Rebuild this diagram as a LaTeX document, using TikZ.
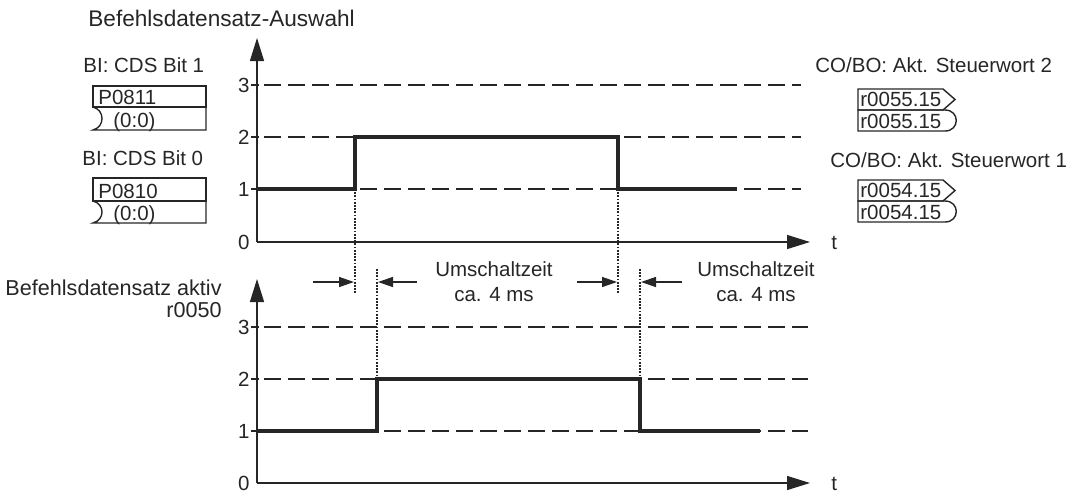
\documentclass[tikz,border=0pt]{standalone}
\usepackage{fontspec}
\setmainfont{Liberation Sans}
\usetikzlibrary{arrows.meta}
\begin{document}
\begin{tikzpicture}[x=0.5pt,y=-0.5pt,
  txt/.style={font=\fontsize{10.25}{12}\selectfont, inner sep=0pt, text=black!85},
  axis/.style={line width=0.7pt, draw=black!85, -{Triangle[length=11.5pt,width=7pt]}},
  lvl/.style={line width=0.9pt, draw=black!85, dash pattern=on 8.5pt off 3.5pt},
  tick/.style={line width=0.7pt, draw=black!85},
  sig/.style={line width=1.6pt, draw=black!85, line join=miter},
  dotv/.style={line width=1.1pt, draw=black!85, dash pattern=on 0.9pt off 0.7pt},
  harr/.style={line width=0.7pt, draw=black!85, -{Triangle[length=7.5pt,width=5pt]}},
  box/.style={line width=0.7pt, draw=black!85},
]
\useasboundingbox (0,0) rectangle (1069,493);

% ---------- upper chart ----------
\coordinate (uO) at (257,242);
\coordinate (uY) at (257,38);
\coordinate (uX) at (810,242);
\foreach \n/\y in {3/85,2/137,1/189}{
  \draw[lvl] (264,\y) -- (801,\y);
  \draw[tick] (251,\y) -- (259,\y);
  \node[txt, anchor=east] (ul\n) at (250,\y) {\n};
}
\node[txt, anchor=east] (ul0) at (250,242) {0};
\draw[axis] (uO) -- (uY);
\draw[axis] (uO) -- (uX);
\node[txt, anchor=west] (ut) at (831,243) {t};
\draw[sig] (257,189) -- (355,189) -- (355,137) -- (618,137) -- (618,189) -- (737,189);

% ---------- lower chart ----------
\coordinate (lO) at (257,483);
\coordinate (lY) at (257,279);
\coordinate (lX) at (810,483);
\foreach \n/\y in {3/327,2/379,1/431}{
  \draw[lvl] (264,\y) -- (808,\y);
  \draw[tick] (251,\y) -- (259,\y);
  \node[txt, anchor=east] (ll\n) at (250,\y) {\n};
}
\node[txt, anchor=east] (ll0) at (250,483) {0};
\draw[axis] (lO) -- (lY);
\draw[axis] (lO) -- (lX);
\node[txt, anchor=west] (lt) at (831,484) {t};
\draw[sig] (257,431) -- (377,431) -- (377,379) -- (640,379) -- (640,431) -- (760,431);

% ---------- dotted markers and switching-time arrows ----------
\coordinate (d1a) at (355,189); \coordinate (d1b) at (355,293);
\coordinate (d2a) at (377,269); \coordinate (d2b) at (377,379);
\coordinate (d3a) at (618,189); \coordinate (d3b) at (618,293);
\coordinate (d4a) at (640,269); \coordinate (d4b) at (640,379);
\draw[dotv] (d1a) -- (d1b);
\draw[dotv] (d2a) -- (d2b);
\draw[dotv] (d3a) -- (d3b);
\draw[dotv] (d4a) -- (d4b);
\coordinate (a1s) at (313,282); \coordinate (a1e) at (354,282);
\coordinate (a2s) at (417,282); \coordinate (a2e) at (378,282);
\coordinate (a3s) at (577,282); \coordinate (a3e) at (617,282);
\coordinate (a4s) at (682,282); \coordinate (a4e) at (641,282);
\draw[harr] (a1s) -- (a1e);
\draw[harr] (a2s) -- (a2e);
\draw[harr] (a3s) -- (a3e);
\draw[harr] (a4s) -- (a4e);
\node[txt, anchor=base] (u1a) at (494,276) {Umschaltzeit};
\node[txt, anchor=base] (u1b) at (494,301) {ca. 4 ms};
\node[txt, anchor=base] (u2a) at (756,276) {Umschaltzeit};
\node[txt, anchor=base] (u2b) at (756,301) {ca. 4 ms};

% ---------- titles ----------
\node[txt, font=\fontsize{11.3}{13}\selectfont, anchor=base west] (title1) at (88,26) {Befehlsdatensatz-Auswahl};
\node[txt, font=\fontsize{10.8}{13}\selectfont, anchor=base east] (title2a) at (222,295) {Befehlsdatensatz aktiv};
\node[txt, font=\fontsize{10.8}{13}\selectfont, anchor=base east] (title2b) at (222,317) {r0050};

% ---------- left parameter boxes ----------
\node[txt, anchor=base west] (bi1) at (83,72) {BI: CDS Bit 1};
\draw[box] (93,86) rectangle (206,107);
\draw[box] (93,107) -- (206,107) -- (206,130) -- (93,130) .. controls (105,127) and (105,110) .. (93,107);
\node[txt, anchor=base west] (p811) at (98,104) {P0811};
\node[txt, anchor=base west] (p811v) at (113,127) {(0:0)};

\node[txt, anchor=base west] (bi0) at (82,165) {BI: CDS Bit 0};
\draw[box] (93,178) rectangle (206,201);
\draw[box] (93,201) -- (206,201) -- (206,223) -- (93,223) .. controls (105,220) and (105,204) .. (93,201);
\node[txt, anchor=base west] (p810) at (98,198) {P0810};
\node[txt, anchor=base west] (p810v) at (113,220) {(0:0)};

% ---------- right output boxes ----------
\node[txt, anchor=base west] (co2) at (815,72) {CO/BO: Akt. Steuerwort 2};
\draw[box] (858,89) -- (943,89) -- (955,99.5) -- (943,110) -- (858,110) -- cycle;
\draw[box] (858,110) -- (945,110) .. controls (960,110) and (960,131) .. (945,131) -- (858,131) -- cycle;
\node[txt, anchor=base west] (r55a) at (860,106) {r0055.15};
\node[txt, anchor=base west] (r55b) at (860,128) {r0055.15};

\node[txt, anchor=base west] (co1) at (830,167) {CO/BO: Akt. Steuerwort 1};
\draw[box] (858,180) -- (943,180) -- (955,190.5) -- (943,201) -- (858,201) -- cycle;
\draw[box] (858,201) -- (945,201) .. controls (960,201) and (960,222) .. (945,222) -- (858,222) -- cycle;
\node[txt, anchor=base west] (r54a) at (860,197) {r0054.15};
\node[txt, anchor=base west] (r54b) at (860,219) {r0054.15};
\end{tikzpicture}
\end{document}
